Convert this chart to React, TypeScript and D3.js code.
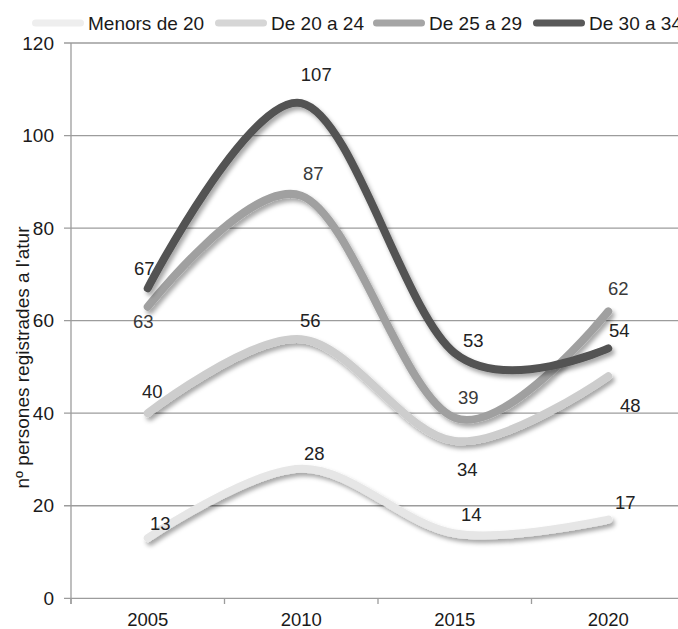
import React from "react";
import * as d3 from "d3";

const years = ["2005", "2010", "2015", "2020"];
const seriesNames = ["Menors de 20", "De 20 a 24", "De 25 a 29", "De 30 a 34"];
const menors20 = [13, 28, 14, 17];
const de20a24 = [40, 56, 34, 48];
const de25a29 = [63, 87, 39, 62];
const de30a34 = [67, 107, 53, 54];
const yTicks = [0, 20, 40, 60, 80, 100, 120];

const seriesValues = [menors20, de20a24, de25a29, de30a34];
const lineColors = ["#e6e6e6", "#cdcdcd", "#a0a0a0", "#525252"];
const legendColors = ["#eeeeee", "#d6d6d6", "#a5a5a5", "#595959"];
const labelColors = ["#222", "#222", "#3a3a3a", "#222"];
// label offsets (dx, dy) relative to each point, per series
const labelOffsets = [
  [[12.5, -15], [13, -15], [16.5, -18.5], [17, -17.5]],
  [[4.5, -22], [9, -19], [12.5, 29], [22, 29]],
  [[-4.5, 15], [12, -22], [13.5, -20], [10, -22.5]],
  [[-3.5, -20], [15, -29], [18.5, -13], [11, -17.5]],
];
const legendX = [32, 215, 373, 533];

const FONT = "'Liberation Sans', Arial, sans-serif";

export default function App() {
  const x = d3.scaleBand().domain(years).range([71, 685]);
  const y = d3.scaleLinear().domain([0, 120]).range([598.3, 43]);
  const cx = (yr: string) => (x(yr) as number) + x.bandwidth() / 2;
  const line = d3
    .line<number>()
    .x((_, i) => cx(years[i]))
    .y((v) => y(v))
    .curve(d3.curveCardinal.tension(0));

  const bounds = years.map((yr) => x(yr) as number);
  bounds.push(685);

  return (
    <svg
      width={678}
      height={629}
      style={{ position: "absolute", left: 0, top: 0, background: "#fff" }}
      fontFamily={FONT}
    >
      <defs>
        <filter id="shadow" x="-10%" y="-30%" width="130%" height="160%">
          <feDropShadow dx="2.5" dy="3.5" stdDeviation="2.2" floodColor="#000" floodOpacity="0.35" />
        </filter>
      </defs>
      <rect width={678} height={629} fill="#fff" />
      {/* gridlines */}
      {yTicks.map((t) => (
        <line key={"g" + t} x1={64} x2={690} y1={y(t)} y2={y(t)} stroke="#9c9c9c" strokeWidth={1.3} />
      ))}
      {/* y axis */}
      <line x1={71} x2={71} y1={43} y2={604} stroke="#9c9c9c" strokeWidth={1.3} />
      {bounds.map((b, i) => (
        <line key={"xt" + i} x1={b} x2={b} y1={598.3} y2={604} stroke="#9c9c9c" strokeWidth={1.3} />
      ))}
      {yTicks.map((t) => (
        <text key={"yl" + t} x={54} y={y(t)} dy="0.35em" textAnchor="end" fontSize={19} fill="#1a1a1a">
          {t}
        </text>
      ))}
      {years.map((yr) => (
        <text key={"xl" + yr} x={cx(yr)} y={619.5} dy="0.35em" textAnchor="middle" fontSize={18.5} fill="#1a1a1a">
          {yr}
        </text>
      ))}
      <text
        transform="translate(29,357.5) rotate(-90)"
        textAnchor="middle"
        fontSize={19}
        fill="#1a1a1a"
      >
        nº persones registrades a l'atur
      </text>
      {/* lines */}
      {seriesValues.map((vals, si) => (
        <path
          key={"s" + si}
          d={line(vals) || ""}
          fill="none"
          stroke={lineColors[si]}
          strokeWidth={8}
          strokeLinecap="round"
          strokeLinejoin="round"
          filter="url(#shadow)"
        />
      ))}
      {/* data labels */}
      {seriesValues.map((vals, si) =>
        vals.map((v, i) => (
          <text
            key={"dl" + si + "-" + i}
            x={cx(years[i]) + labelOffsets[si][i][0]}
            y={y(v) + labelOffsets[si][i][1]}
            dy="0.35em"
            textAnchor="middle"
            fontSize={18.5}
            fill={labelColors[si]}
          >
            {v}
          </text>
        ))
      )}
      {/* legend */}
      {seriesNames.map((n, i) => (
        <g key={"lg" + i}>
          <line
            x1={legendX[i] + 3.5}
            x2={legendX[i] + 48.5}
            y1={23}
            y2={23}
            stroke={legendColors[i]}
            strokeWidth={7}
            strokeLinecap="round"
          />
          <text x={legendX[i] + 56} y={30} fontSize={19} fill="#1a1a1a">
            {n}
          </text>
        </g>
      ))}
    </svg>
  );
}
